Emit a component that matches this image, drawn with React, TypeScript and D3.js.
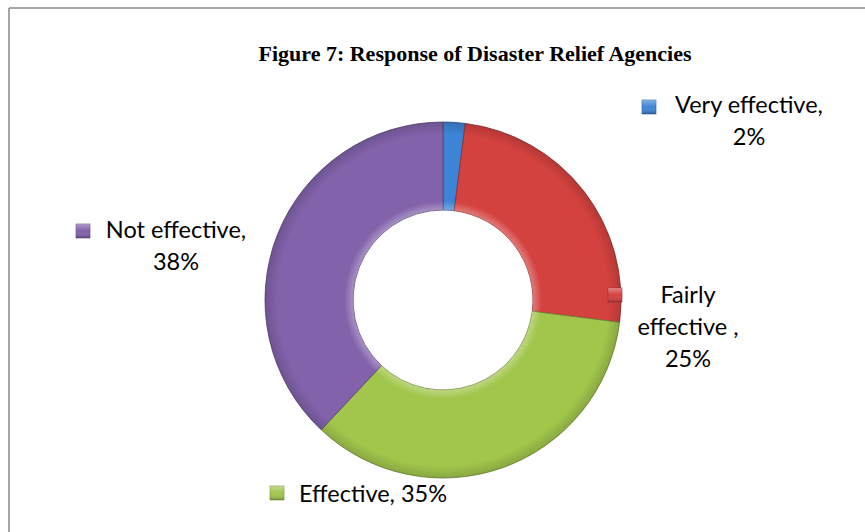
import React from "react";
import * as d3 from "d3";

const categories = ["Very effective", "Fairly effective", "Effective", "Not effective"];
const values = [2, 25, 35, 38];
const labelLines = [
  ["Very effective,", "2%"],
  ["Fairly", "effective ,", "25%"],
  ["Effective, 35%"],
  ["Not effective,", "38%"],
];
const colors = ["#3d84d6", "#d4423f", "#a2c64c", "#8262ab"];
const title = "Figure 7: Response of Disaster Relief Agencies";

// label layout (center x, first baseline, marker x, marker y)
const labelPos = [
  { cx: 749, y: 113, mx: 642, my: 100 },
  { cx: 688, y: 303, mx: 608, my: 288 },
  { cx: 373, y: 502, mx: 270, my: 486 },
  { cx: 176, y: 238, mx: 76, my: 224 },
];

export default function App() {
  const cx = 443;
  const cy = 300;
  const rOuter = 178;
  const rInner = 90;
  const pie = d3.pie<number>().sort(null).value((d) => d);
  const arcs = pie(values);
  const arc = d3.arc<d3.PieArcDatum<number>>().innerRadius(rInner).outerRadius(rOuter);
  const font = "Lato, 'Open Sans', sans-serif";
  return (
    <svg
      width={865}
      height={532}
      style={{ position: "absolute", left: 0, top: 0, background: "#fff" }}
    >
      <defs>
        <radialGradient id="bevel" gradientUnits="userSpaceOnUse" cx={0} cy={0} r={rOuter}>
          <stop offset={rInner / rOuter} stopColor="#fff" stopOpacity={0.3} />
          <stop offset={rInner / rOuter + 0.05} stopColor="#fff" stopOpacity={0} />
          <stop offset={0.93} stopColor="#000" stopOpacity={0} />
          <stop offset={1} stopColor="#000" stopOpacity={0.15} />
        </radialGradient>
        <linearGradient id="mk" x1="0" y1="0" x2="0" y2="1">
          <stop offset="0" stopColor="#fff" stopOpacity={0.35} />
          <stop offset="0.5" stopColor="#fff" stopOpacity={0} />
          <stop offset="1" stopColor="#000" stopOpacity={0.25} />
        </linearGradient>
      </defs>
      <line x1={9} y1={8} x2={865} y2={8} stroke="#888" strokeWidth={1.5} />
      <line x1={9} y1={8} x2={9} y2={532} stroke="#888" strokeWidth={1.5} />
      <text
        x={475}
        y={61}
        textAnchor="middle"
        fontFamily="'Liberation Serif', 'Times New Roman', serif"
        fontWeight="bold"
        fontSize={22}
        fill="#000"
      >
        {title}
      </text>
      <g transform={`translate(${cx},${cy})`}>
        {arcs.map((a, i) => (
          <g key={categories[i]}>
            <path d={arc(a) || ""} fill={colors[i]} stroke={d3.color(colors[i])!.darker(1.2).toString()} strokeWidth={0.8} />
            <path d={arc(a) || ""} fill="url(#bevel)" />
          </g>
        ))}
      </g>
      {labelLines.map((lines, i) => {
        const p = labelPos[i];
        return (
          <g key={categories[i]}>
            <rect x={p.mx} y={p.my} width={14} height={14} fill={colors[i]} stroke={d3.color(colors[i])!.darker(1).toString()} strokeWidth={0.6} />
            <rect x={p.mx} y={p.my} width={14} height={14} fill="url(#mk)" />
            {lines.map((t, j) => (
              <text
                key={j}
                x={p.cx}
                y={p.y + j * 32}
                textAnchor="middle"
                fontFamily={font}
                fontSize={23.5}
                fill="#000"
              >
                {t}
              </text>
            ))}
          </g>
        );
      })}
    </svg>
  );
}
